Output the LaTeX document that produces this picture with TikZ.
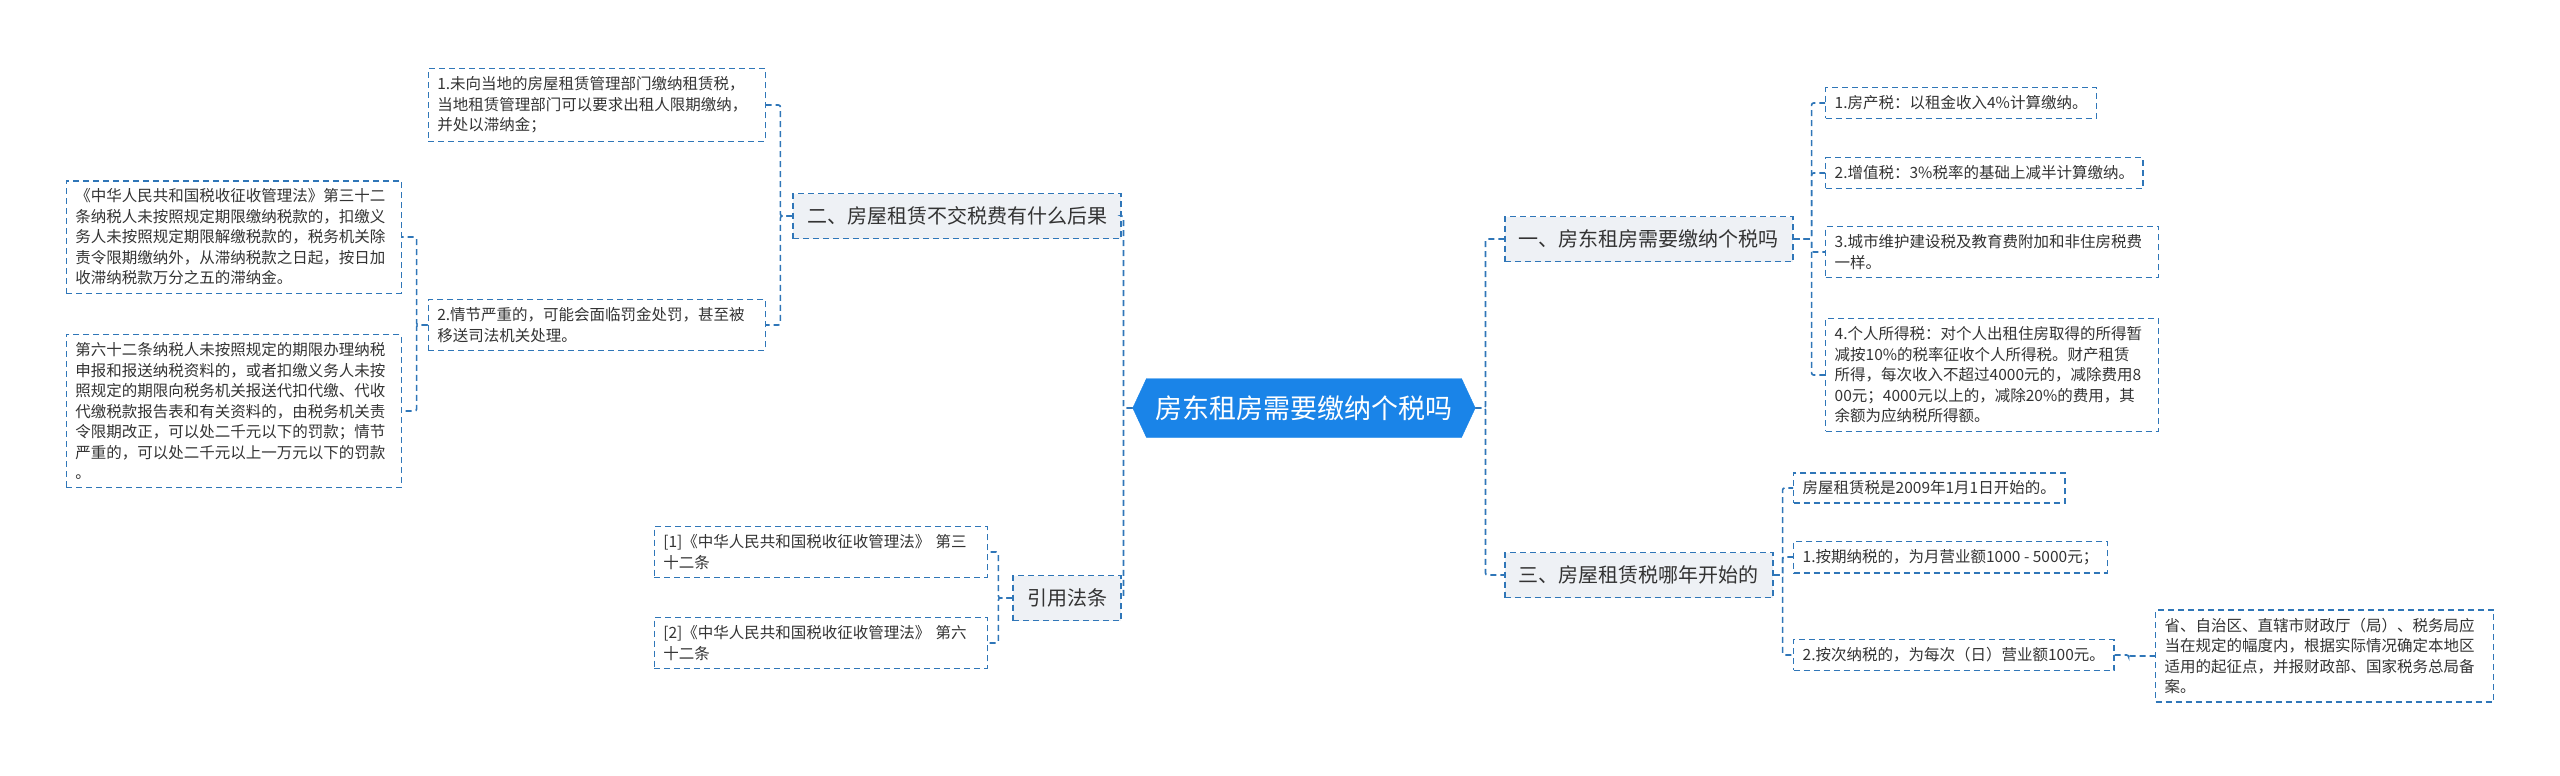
\documentclass[tikz,border=0pt]{standalone}
\usepackage{fontspec}
\setmainfont{Noto Sans CJK SC}
\usetikzlibrary{shapes.symbols}
\definecolor{linkblue}{HTML}{2F76B8}
\definecolor{rootblue}{HTML}{1A84E8}
\definecolor{topicgray}{HTML}{EEF1F5}
\definecolor{textgray}{HTML}{333333}
\begin{document}
\begin{tikzpicture}[
  x=1pt, y=-1pt,
  link/.style={draw=linkblue, line width=1.6pt, dash pattern=on 6pt off 4pt, rounded corners=2pt},
  root/.style={signal, signal to=west and east, signal pointer angle=130, fill=rootblue, draw=rootblue, text=white, font=\fontsize{27}{32}\selectfont, minimum height=59pt, inner xsep=9pt},
  topic/.style={draw=linkblue, line width=1.6pt, dash pattern=on 6pt off 4pt, fill=topicgray, text=textgray, font=\fontsize{20}{24}\selectfont, minimum height=45pt, inner xsep=14pt},
  leaf/.style={draw=linkblue, line width=1.4pt, dash pattern=on 6pt off 4pt, text=textgray, font=\fontsize{15.5}{20.5}\selectfont, align=left, inner xsep=9pt, inner ysep=8pt}
]
\useasboundingbox (0,0) rectangle (2560,776);

\node[root] (root) at (1304,408) {房东租房需要缴纳个税吗};

% left side
\node[topic, anchor=east] (cons) at (1122,216) {二、房屋租赁不交税费有什么后果};
\node[topic, anchor=east] (law) at (1122,598) {引用法条};
\node[leaf, anchor=east, text width=319pt] (late) at (766,105) {1.未向当地的房屋租赁管理部门缴纳租赁税，\\当地租赁管理部门可以要求出租人限期缴纳，\\并处以滞纳金；};
\node[leaf, anchor=east, text width=319pt] (grave) at (766,325) {2.情节严重的，可能会面临罚金处罚，甚至被\\移送司法机关处理。};
\node[leaf, anchor=east, text width=317pt] (art32) at (402,237) {《中华人民共和国税收征收管理法》第三十二\\条纳税人未按照规定期限缴纳税款的，扣缴义\\务人未按照规定期限解缴税款的，税务机关除\\责令限期缴纳外，从滞纳税款之日起，按日加\\收滞纳税款万分之五的滞纳金。};
\node[leaf, anchor=east, text width=317pt] (art62) at (402,411) {第六十二条纳税人未按照规定的期限办理纳税\\申报和报送纳税资料的，或者扣缴义务人未按\\照规定的期限向税务机关报送代扣代缴、代收\\代缴税款报告表和有关资料的，由税务机关责\\令限期改正，可以处二千元以下的罚款；情节\\严重的，可以处二千元以上一万元以下的罚款\\。};
\node[leaf, anchor=east, text width=315pt] (ref1) at (988,552) {[1]《中华人民共和国税收征收管理法》~第三\\十二条};
\node[leaf, anchor=east, text width=315pt] (ref2) at (988,643) {[2]《中华人民共和国税收征收管理法》~第六\\十二条};

% right side
\node[topic, anchor=west] (tax) at (1504,239) {一、房东租房需要缴纳个税吗};
\node[topic, anchor=west] (year) at (1504,575) {三、房屋租赁税哪年开始的};
\node[leaf, anchor=west] (fcs) at (1825,103) {1.房产税：以租金收入4\%计算缴纳。};
\node[leaf, anchor=west] (zzs) at (1825,173) {2.增值税：3\%税率的基础上减半计算缴纳。};
\node[leaf, anchor=west, text width=315pt] (cjs) at (1825,252) {3.城市维护建设税及教育费附加和非住房税费\\一样。};
\node[leaf, anchor=west, text width=315pt] (grs) at (1825,375) {4.个人所得税：对个人出租住房取得的所得暂\\减按10\%的税率征收个人所得税。财产租赁\\所得，每次收入不超过4000元的，减除费用8\\00元；4000元以上的，减除20\%的费用，其\\余额为应纳税所得额。};
\node[leaf, anchor=west] (start) at (1793,488) {房屋租赁税是2009年1月1日开始的。};
\node[leaf, anchor=west] (month) at (1793,557) {1.按期纳税的，为月营业额1000 - 5000元；};
\node[leaf, anchor=west] (times) at (1793,655) {2.按次纳税的，为每次（日）营业额100元。};
\node[leaf, anchor=west, text width=320pt] (local) at (2155,656) {省、自治区、直辖市财政厅（局）、税务局应\\当在规定的幅度内，根据实际情况确定本地区\\适用的起征点，并报财政部、国家税务总局备\\案。};

\draw[link] (root.west) -- ++(-9,0) |- (cons.east);
\draw[link] (root.west) -- ++(-9,0) |- (law.east);
\draw[link] (root.east) -- ++(10,0) |- (tax.west);
\draw[link] (root.east) -- ++(10,0) |- (year.west);
\draw[link] (cons.west) -- ++(-12,0) |- (late.east);
\draw[link] (cons.west) -- ++(-12,0) |- (grave.east);
\draw[link] (grave.west) -- ++(-11,0) |- (art32.east);
\draw[link] (grave.west) -- ++(-11,0) |- (art62.east);
\draw[link] (law.west) -- ++(-14,0) |- (ref1.east);
\draw[link] (law.west) -- ++(-14,0) |- (ref2.east);
\draw[link] (tax.east) -- ++(18,0) |- (fcs.west);
\draw[link] (tax.east) -- ++(18,0) |- (zzs.west);
\draw[link] (tax.east) -- ++(18,0) |- (cjs.west);
\draw[link] (tax.east) -- ++(18,0) |- (grs.west);
\draw[link] (year.east) -- ++(9,0) |- (start.west);
\draw[link] (year.east) -- ++(9,0) |- (month.west);
\draw[link] (year.east) -- ++(9,0) |- (times.west);
\draw[link] (times.east) -- ++(14,0) |- (local.west);
\end{tikzpicture}
\end{document}
